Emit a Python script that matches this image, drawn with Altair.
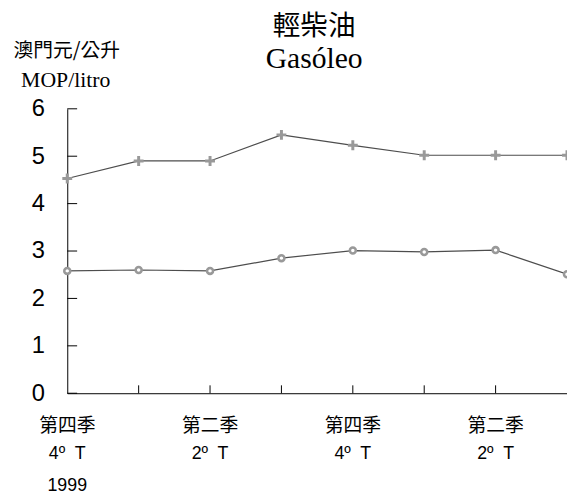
import altair as alt
import pandas as pd

# ---- data ----
quarter_idx = [0, 1, 2, 3, 4, 5, 6, 7]
upper_price = [4.53, 4.90, 4.90, 5.45, 5.23, 5.02, 5.02, 5.02]
lower_price = [2.58, 2.60, 2.58, 2.85, 3.01, 2.98, 3.02, 2.51]

label_idx = [0, 2, 4, 6]
label_cn = ["第四季", "第二季", "第四季", "第二季"]
label_pt = ["4º\u00a0 T", "2º\u00a0 T", "4º\u00a0 T", "2º\u00a0 T"]
year_idx = [0]
year_label = ["1999"]

y_ticks = [0, 1, 2, 3, 4, 5, 6]
x_ticks = [1, 2, 3, 4, 5, 6]

title_cn = "輕柴油"
title_pt = "Gasóleo"
unit_cn = "澳門元/公升"
unit_pt = "MOP/litro"

CJK = "Noto Sans CJK TC"
SANS = "Liberation Sans"
SERIF = "Liberation Serif"

df = pd.DataFrame({
    "idx": quarter_idx * 2,
    "price": upper_price + lower_price,
    "series": ["upper"] * len(upper_price) + ["lower"] * len(lower_price),
})
labels_df = pd.DataFrame({"idx": label_idx, "cn": label_cn, "pt": label_pt})
year_df = pd.DataFrame({"idx": year_idx, "year": year_label})
yt_df = pd.DataFrame({"price": y_ticks})
xt_df = pd.DataFrame({"idx": x_ticks})

x_enc = alt.X("idx:Q", scale=alt.Scale(domain=[0, 7], nice=False, zero=False),
              axis=alt.Axis(title=None, labels=False, ticks=False, grid=False,
                            domainColor="black", domainWidth=1))
y_enc = alt.Y("price:Q", scale=alt.Scale(domain=[0, 6], nice=False),
              axis=alt.Axis(title=None, values=y_ticks, ticks=False, grid=False,
                            labelFont=SANS, labelFontSize=24, labelColor="black",
                            labelPadding=23, domainColor="black", domainWidth=1))

base = alt.Chart(df)

line = base.mark_line(color="#4d4d4d", strokeWidth=1.2).encode(
    x=x_enc, y=y_enc, detail="series:N")

plus_pts = base.transform_filter(alt.datum.series == "upper").mark_point(
    shape="M-1,0H1M0,-1V1", filled=False, stroke="#999999", strokeWidth=3,
    size=100, opacity=1).encode(x=x_enc, y=y_enc)

circ_pts = base.transform_filter(alt.datum.series == "lower").mark_point(
    shape="circle", filled=False, fill="white", stroke="#999999", strokeWidth=2.6,
    size=36, opacity=1, fillOpacity=1).encode(x=x_enc, y=y_enc)

y_tick_rules = alt.Chart(yt_df).mark_rule(color="black", strokeWidth=1).encode(
    y=y_enc, x=alt.value(0), x2=alt.value(10))

x_tick_rules = alt.Chart(xt_df).mark_rule(color="black", strokeWidth=1).encode(
    x=x_enc, y=alt.value(280), y2=alt.value(288))

cn_text = alt.Chart(labels_df).mark_text(
    font=CJK, fontSize=19, color="black", baseline="middle", align="center").encode(
    x=x_enc, y=alt.value(321.5), text="cn:N")

pt_text = alt.Chart(labels_df).mark_text(
    font=SANS, fontSize=18, color="black", baseline="middle", align="center").encode(
    x=x_enc, y=alt.value(349.5), text="pt:N")

year_text = alt.Chart(year_df).mark_text(
    font=SANS, fontSize=18, color="black", baseline="middle", align="center").encode(
    x=x_enc, y=alt.value(381.5), text="year:N")

unit_cn_text = alt.Chart(pd.DataFrame({"t": [unit_cn]})).mark_text(
    font=CJK, fontSize=20, color="black", baseline="middle", align="center").encode(
    x=alt.value(-0.5), y=alt.value(-58.5), text="t:N")

unit_pt_text = alt.Chart(pd.DataFrame({"t": [unit_pt]})).mark_text(
    font=SERIF, fontSize=22, color="black", baseline="alphabetic", align="center").encode(
    x=alt.value(-1.5), y=alt.value(-22), text="t:N")

chart = alt.layer(
    line, plus_pts, circ_pts, y_tick_rules, x_tick_rules,
    cn_text, pt_text, year_text, unit_cn_text, unit_pt_text
).properties(
    width=506, height=288,
    padding={"left": 60, "top": 99, "right": 0, "bottom": 102},
    autosize=alt.AutoSizeParams(type="none"),
    background="white",
    title=alt.TitleParams(
        text=title_cn, subtitle=title_pt,
        font=CJK, fontSize=28, fontWeight="normal", color="black",
        subtitleFont=SERIF, subtitleFontSize=30, subtitleColor="black",
        anchor="middle", offset=-33, subtitlePadding=3, dx=-3),
).configure_view(stroke=None)

chart.save("out.html", embed_options={"renderer": "svg", "actions": False})
